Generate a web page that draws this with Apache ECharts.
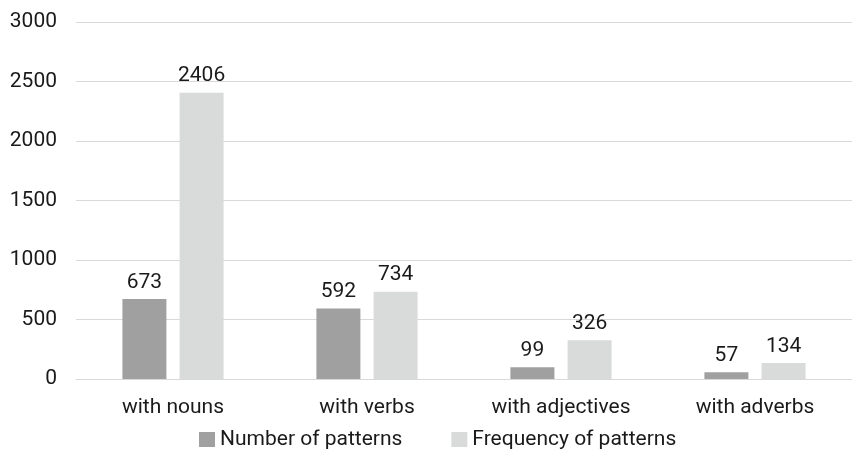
<!DOCTYPE html>
<html><head><meta charset="utf-8">
<script src="https://cdn.jsdelivr.net/npm/echarts@6/dist/echarts.min.js"></script>
<style>html,body{margin:0;padding:0;background:#fff}#c{width:852px;height:455px}</style>
</head><body><div id="c"></div>
<script>
const categories = ['with nouns', 'with verbs', 'with adjectives', 'with adverbs'];
const numberOfPatterns = [673, 592, 99, 57];
const frequencyOfPatterns = [2406, 734, 326, 134];
const seriesNames = ['Number of patterns', 'Frequency of patterns'];

const chart = echarts.init(document.getElementById('c'));
const font = 'Roboto';
const fs = 21;
const txt = '#1a1a1a';
const labelStyle = {show: true, position: 'top', color: txt, fontSize: fs, fontFamily: font, distance: 6};
chart.setOption({
  animation: false,
  grid: {left: 76, right: 0, top: 22, bottom: 76},
  legend: {
    bottom: 0, left: 194, itemWidth: 16, itemHeight: 15, itemGap: 49,
    icon: 'rect',
    textStyle: {fontSize: fs, fontFamily: font, color: txt},
    data: seriesNames
  },
  xAxis: {
    type: 'category', data: categories,
    axisLine: {lineStyle: {color: '#d9d9d9', width: 1}},
    axisTick: {show: false},
    axisLabel: {fontSize: fs, fontFamily: font, color: txt, margin: 18}
  },
  yAxis: {
    type: 'value', min: 0, max: 3000, interval: 500,
    axisLine: {show: false}, axisTick: {show: false},
    splitLine: {lineStyle: {color: '#d9d9d9', width: 1}},
    axisLabel: {fontSize: fs, fontFamily: font, color: txt, margin: 19, formatter: v => String(v)}
  },
  series: [
    {name: seriesNames[0], type: 'bar', data: numberOfPatterns, barWidth: 44, barGap: '30%',
     itemStyle: {color: '#a0a0a0'}, label: labelStyle},
    {name: seriesNames[1], type: 'bar', data: frequencyOfPatterns, barWidth: 44,
     itemStyle: {color: '#d9dada'}, label: labelStyle}
  ]
});
</script></body></html>
